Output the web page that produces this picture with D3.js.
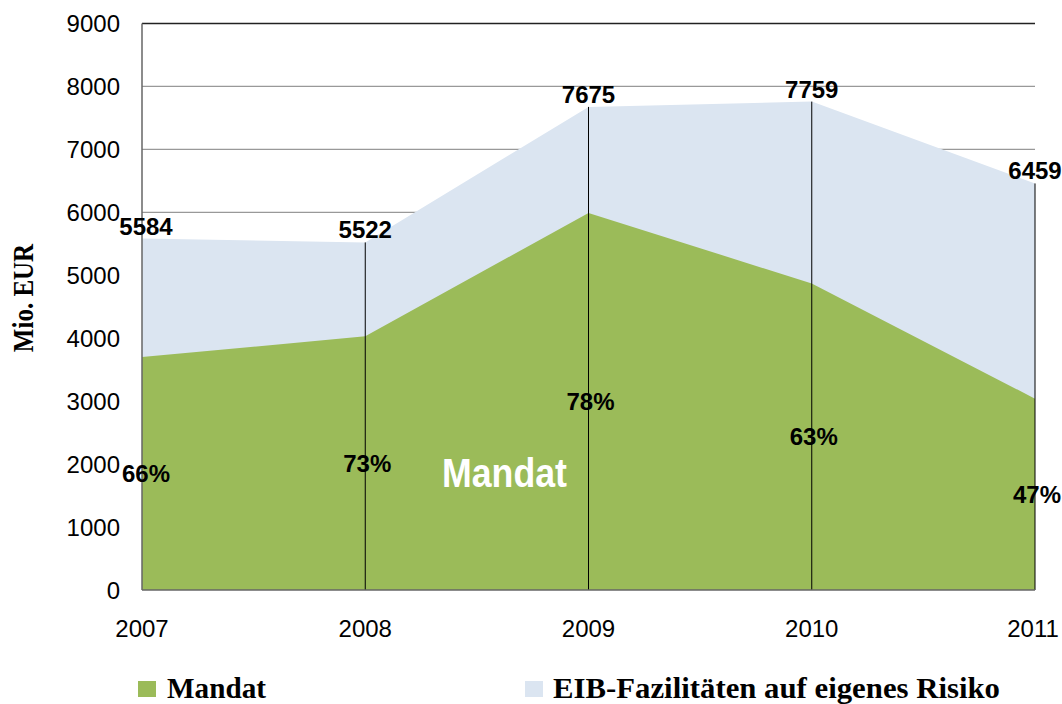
<!DOCTYPE html>
<html><head><meta charset="utf-8">
<script src="https://cdn.jsdelivr.net/npm/d3@7"></script>
<style>body{margin:0;background:#fff}</style>
</head><body>
<svg id="c" width="1062" height="704"></svg>
<script>
const years = ["2007","2008","2009","2010","2011"];
const totals = [5584, 5522, 7675, 7759, 6459];
const mandat = [3700, 4030, 5990, 4870, 3040];
const shares = ["66%","73%","78%","63%","47%"];
const yTicks = [0,1000,2000,3000,4000,5000,6000,7000,8000,9000];
const seriesNames = ["Mandat","EIB-Fazilitäten auf eigenes Risiko"];
const colors = ["#9BBB59","#DBE5F1"];

const svg = d3.select("#c");
const L=142, R=1035, T=23.5, B=590;
const x = d3.scalePoint().domain(years).range([L,R]);
const y = d3.scaleLinear().domain([0,9000]).range([B,T]);
const sans = "Liberation Sans, Arial, sans-serif";
const serif = "Liberation Serif, Times New Roman, serif";

// gridlines
svg.append("g").selectAll("line").data(yTicks.slice(1)).join("line")
  .attr("x1",L).attr("x2",R).attr("y1",d=>y(d)).attr("y2",d=>y(d))
  .attr("stroke",d=>d===9000?"#222":"#999").attr("stroke-width",d=>d===9000?1.5:1.2);

const data = years.map((yr,i)=>({yr,total:totals[i],mandat:mandat[i]}));
const areaTotal = d3.area().x(d=>x(d.yr)).y0(y(0)).y1(d=>y(d.total));
const areaMandat = d3.area().x(d=>x(d.yr)).y0(y(0)).y1(d=>y(d.mandat));
svg.append("path").datum(data).attr("d",areaTotal).attr("fill",colors[1]);
svg.append("path").datum(data).attr("d",areaMandat).attr("fill",colors[0]);

// drop lines
svg.append("g").selectAll("line").data(data.slice(1)).join("line")
  .attr("x1",d=>x(d.yr)).attr("x2",d=>x(d.yr)).attr("y1",d=>y(d.total)).attr("y2",y(0))
  .attr("stroke","#000").attr("stroke-width",1);

// axes lines
svg.append("line").attr("x1",L).attr("x2",L).attr("y1",T).attr("y2",B).attr("stroke","#666").attr("stroke-width",1.5);
svg.append("line").attr("x1",L).attr("x2",R).attr("y1",B).attr("y2",B).attr("stroke","#666").attr("stroke-width",1.5);

// y tick labels
svg.append("g").selectAll("text").data(yTicks).join("text")
  .attr("x",120).attr("y",d=>y(d)).attr("dy","0.36em").attr("text-anchor","end")
  .attr("font-family",sans).attr("font-size",24).attr("fill","#000")
  .text(d=>d);

// x labels
svg.append("g").selectAll("text").data(years).join("text")
  .attr("x",(d,i)=>x(d)+(i===4?-2:0)).attr("y",637).attr("text-anchor","middle")
  .attr("font-family",sans).attr("font-size",24).attr("fill","#000")
  .text(d=>d);

// total labels
svg.append("g").selectAll("text").data(data).join("text")
  .attr("x",(d,i)=>x(d.yr)+(i===0?4:0)).attr("y",d=>y(d.total)-4).attr("text-anchor","middle")
  .attr("font-family",sans).attr("font-size",24).attr("font-weight","bold").attr("fill","#000")
  .text(d=>d.total);

// share labels
svg.append("g").selectAll("text").data(data).join("text")
  .attr("x",(d,i)=>x(d.yr)+(i===0?4:(i===4?2:2))).attr("y",d=>y(d.mandat/2)).attr("dy","0.36em").attr("text-anchor","middle")
  .attr("font-family",sans).attr("font-size",24).attr("font-weight","bold").attr("fill","#000")
  .text((d,i)=>shares[i]);

// in-chart label
svg.append("text").attr("x",442).attr("y",487)
  .attr("font-family",sans).attr("font-size",40).attr("font-weight","bold")
  .attr("textLength",125).attr("lengthAdjust","spacingAndGlyphs").attr("fill","#fff").text(seriesNames[0]);

// y title
svg.append("text").attr("transform","translate(33,298) rotate(-90) scale(1,1.2)").attr("text-anchor","middle")
  .attr("font-family",serif).attr("font-size",25).attr("font-weight","bold")
  .text("Mio. EUR");

// legend
const leg = [{x:138,tx:167,w:99},{x:525,tx:553,w:447}];
leg.forEach((l,i)=>{
  svg.append("rect").attr("x",l.x).attr("y",681).attr("width",18).attr("height",16).attr("fill",colors[i]);
  svg.append("text").attr("x",l.tx).attr("y",698).attr("font-family",serif)
    .attr("font-size",29).attr("font-weight","bold").attr("textLength",l.w).attr("lengthAdjust","spacingAndGlyphs")
    .text(seriesNames[i]);
});
</script>
</body></html>
